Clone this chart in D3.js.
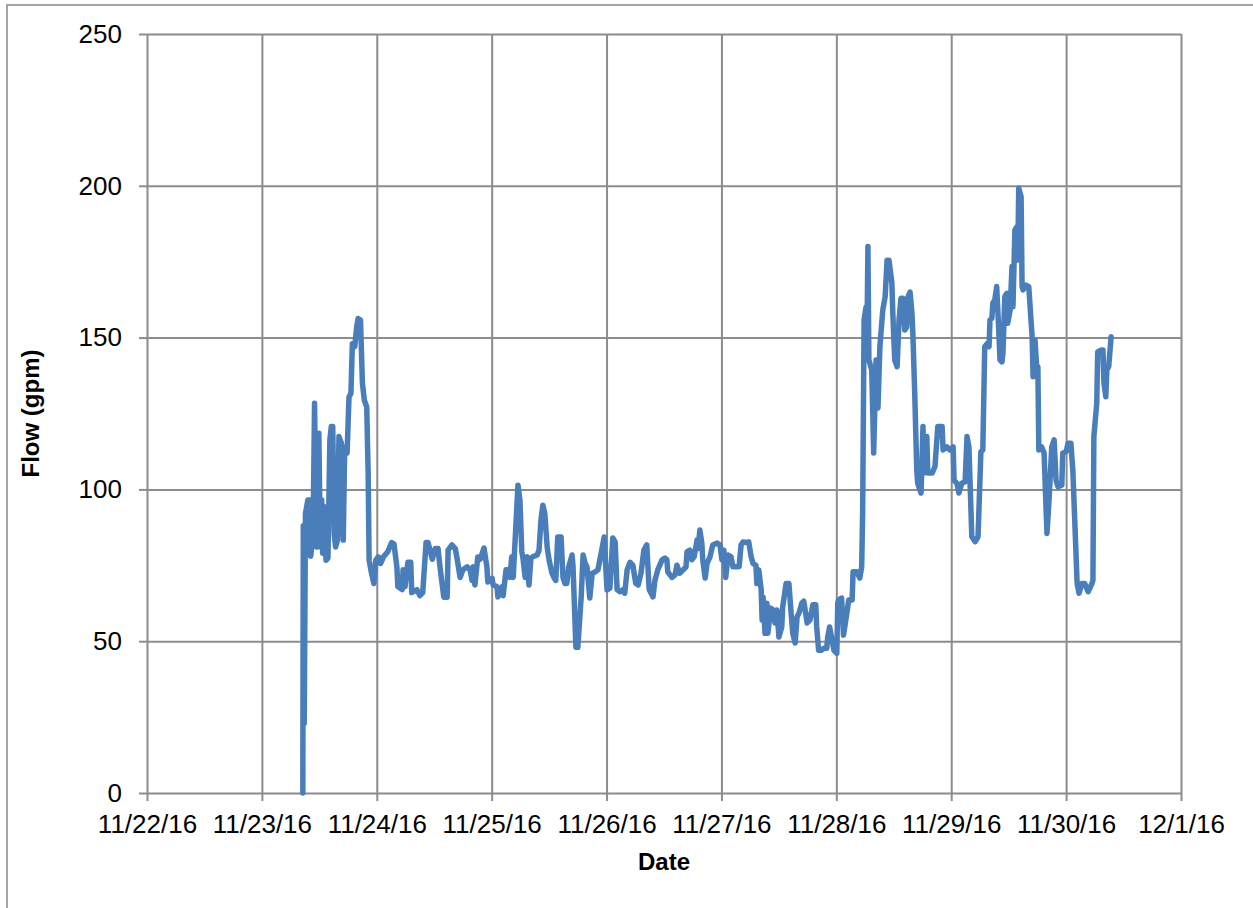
<!DOCTYPE html>
<html>
  <head>
    <title>Flow (gpm) by date</title>
    <script src="https://d3js.org/d3.v7.min.js"></script>
    <style>
      body { margin: 0; background: #fff; }
      text { font-family: "Liberation Sans", Arial, sans-serif; fill: #000; }
      .grid line { stroke: #8c8c8c; stroke-width: 2; }
      .grid path { display: none; }
      .axis path { display: none; }
      .axis line { stroke: #8c8c8c; stroke-width: 2; }
      .axis text { font-size: 26px; }
      .title { font-size: 24px; font-weight: bold; }
      .flow { fill: none; stroke: #4a7ebb; stroke-width: 5.5; stroke-linejoin: round; stroke-linecap: round; }
    </style>
  </head>
  <body>
    <svg id="chart" width="1253" height="908"></svg>

    <script>
      // hours since 11/22/16 00:00, flow in gpm
      var hours = [
        32.55, 32.65, 32.85, 33.1, 33.6, 34.1, 34.2, 34.7, 35.0, 35.4, 35.9, 36.2, 36.5, 36.7, 37.1, 37.4,
        37.8, 38.2, 38.5, 38.8, 39.1, 39.4, 39.8, 40.1, 40.6, 41.0, 41.3, 41.8, 42.2, 42.6, 42.9, 43.4,
        43.8, 44.1, 44.6, 45.0, 45.4, 45.9, 46.2, 46.4, 46.9, 47.4, 47.8, 48.3, 48.8, 49.4,
        50.3, 51.1, 51.6, 52.2, 52.4, 53.3, 53.5, 53.9, 54.5, 55.1, 55.3, 56.4, 57.0, 57.6, 58.3, 58.7,
        59.6, 60.2, 60.8, 61.2, 62.0, 62.7, 62.9, 63.7, 64.4, 64.8, 65.4, 66.0, 66.9, 67.5, 67.9, 68.1,
        68.5, 69.1, 69.6, 70.4, 71.0, 71.2, 72.1,
        72.3, 73.1, 73.3, 74.2, 74.4, 75.0, 75.4, 75.8, 76.2, 76.5, 76.9, 77.3, 77.5, 77.9, 78.3, 78.5,
        79.0, 79.4, 79.8, 80.2, 80.6, 81.5, 81.9, 82.3, 82.7, 83.1, 83.6, 84.0, 84.6, 85.0, 85.4, 85.8,
        86.5, 86.9, 87.3, 87.7, 88.1, 88.8, 89.0, 89.6, 90.0, 90.7, 91.1, 91.5, 91.9, 92.5, 93.0, 93.6,
        94.2, 95.0, 95.5, 96.1, 96.7, 97.3,
        97.8, 98.2, 98.8, 99.4, 99.8, 100.3, 100.9, 101.5, 102.1, 102.6, 103.2, 103.8, 104.4, 104.9, 105.7, 106.1,
        106.7, 107.6, 108.2, 108.6, 108.8, 109.7, 110.3, 110.7, 111.3, 112.0, 112.6, 112.8, 113.4, 113.8, 114.3, 114.9,
        115.1, 115.5, 115.9, 116.1, 116.6, 117.0, 117.6, 118.2, 119.1, 119.7, 120.1, 120.5, 120.9, 121.4, 122.0, 122.4,
        123.2, 123.7, 124.1, 124.5, 125.3, 125.7, 126.2, 126.6, 127.2, 127.4, 127.8, 128.3, 128.5, 128.7, 129.1, 129.5,
        129.7, 130.3, 130.8, 131.2, 131.6, 132.0, 132.6, 132.8, 133.5, 134.1, 134.5, 134.9, 135.4, 135.8, 136.2, 136.8,
        137.2, 137.9, 138.5, 139.1, 139.7, 139.9, 140.3, 140.9, 141.4, 142.0, 142.2, 142.6, 143.1, 143.5, 144.1, 144.3,
        144.5, 145.1, 145.5, 146.2, 146.6, 147.3, 147.5, 148.3, 148.9, 149.3, 149.5, 149.8, 150.2, 150.4, 150.6, 150.8,
        151.4, 151.8, 152.3, 152.7, 153.1, 153.7, 154.2, 154.6, 155.0, 155.6, 155.8, 156.2, 156.7, 157.1, 157.5, 157.9,
        158.3, 158.7, 159.0, 159.4, 159.8, 160.0, 160.4, 160.8, 161.0, 161.7, 162.1, 162.3, 162.9, 163.1, 164.0, 164.6,
        165.2, 166.1, 166.3, 167.1, 167.7,
        168.4, 168.6, 169.2, 169.6, 170.2, 170.9, 171.3, 171.7, 172.3, 173.0, 173.6, 174.2, 174.6, 175.0, 175.5, 175.9,
        176.1, 176.5, 176.7, 177.1, 177.5, 177.8, 178.2, 178.6, 178.8, 179.2, 179.6, 179.8, 180.3, 180.7, 180.9, 181.3,
        181.7, 181.9, 182.1, 182.6, 182.8, 183.0, 183.6, 184.2, 184.9, 185.1, 185.5, 185.9, 186.1, 186.3, 186.9, 187.4,
        188.0, 188.4, 189.0, 189.5, 189.9, 190.3, 191.1, 191.3, 192.0, 192.4, 193.0, 193.4, 193.8, 194.3, 194.7, 195.3,
        195.9, 196.6, 197.4, 197.6, 197.8, 198.4, 198.6, 199.3, 199.7, 199.9, 200.3, 200.5, 200.9, 201.4
      ];

      var flow = [
        0, 88, 23, 92, 96.5, 96.5, 78, 85.6, 128.4, 81, 118.5, 81, 96.5, 79, 94.3, 76.7,
        77.3, 116.3, 120.7, 120.7, 85.5, 81, 83.3, 117.4, 115.2, 83.3, 114, 111.9, 130.5, 131.6, 148, 147,
        153.6, 156.3, 155.8, 135, 129.4, 127.2, 105.4, 76.7, 72.4, 69, 76.7, 77.8, 75.6, 77.8,
        79.5, 82.5, 82, 74.5, 68, 67, 73.5, 68, 76, 76, 66, 67, 65, 66, 82.5, 82.5,
        77, 80.5, 80.5, 74.5, 64.5, 64.5, 80, 81.7, 80.5, 77, 71, 73.5, 74.5, 73.5, 70, 74.5,
        68.5, 77.7, 77, 80.7, 74.5, 69.5, 70.7,
        68.5, 68, 64.6, 68, 65, 73.5, 73.5, 71, 77.8, 71, 83.3, 95.5, 101.4, 96.5, 79.4, 77.8,
        71, 77.8, 68.5, 77.4, 77.8, 78.4, 80, 90, 94.8, 92, 81, 76.7, 72.4, 71, 70, 84.3,
        84.3, 71, 69, 69, 74.5, 78.4, 74.5, 48, 48, 64.6, 78.4, 75.8, 74.5, 64.2, 72.4, 72.8,
        73.5, 80, 84.3, 66.9, 67.5, 84,
        82.7, 67, 66.3, 67, 65.8, 73.5, 76, 75, 69, 68.5, 72.4, 80, 81.7, 67, 64.6, 70,
        73.5, 76.8, 77.4, 76.8, 72.8, 71, 71.8, 75, 72.4, 73.5, 74.5, 79.4, 80, 76.8, 77.8, 83.3,
        80.5, 86.6, 82.3, 76.8, 70.8, 75.6, 77.8, 81.7, 82.3, 81.7, 76.8, 80, 71, 78.4, 77.8, 74.5,
        74.5, 74.6, 81.7, 82.7, 82.5, 82.7, 77.8, 75.6, 75, 69, 73.5, 67, 57, 64.6, 52.6, 62.5,
        52.6, 60.9, 60.3, 56, 60.3, 51.4, 54.7, 61.3, 69, 69, 60.3, 52.6, 49.4, 58, 59.3, 62.6,
        63.2, 56, 57, 62, 62, 54.7, 47, 47, 47.7, 47.7, 51.4, 54.7, 50.4, 47, 46, 62.6,
        63.6, 64.2, 52, 59.3, 63.6, 63.6, 72.9, 72.9, 70.8, 74.5, 93, 155.8, 160, 150, 180, 142.6,
        139.3, 112, 142.6, 126.8, 147, 159, 163.5, 175.5, 175.5, 168, 158, 142.6, 140.4, 155.8, 163, 163,
        152.5, 153.5, 163.5, 165, 158, 150.9, 130.5, 106.4, 102, 98.8, 120.7, 105.4, 117.4, 105.4, 105.4, 107.5,
        120.7, 120.7, 113, 114, 113,
        114, 103, 102, 98.8, 102, 102.5, 117.4, 114, 84.4, 82.8, 84.4, 112.4, 113, 147, 148, 147,
        155.8, 156.4, 161.4, 162.4, 166.8, 156.9, 142.6, 142, 144.8, 163.5, 164.6, 154.7, 159, 173.4, 160.2, 185.4,
        186.5, 175.6, 199.2, 196.4, 166.8, 165.7, 167.3, 166.8, 150.3, 137.1, 149.2, 139.3, 140.4, 113, 114, 112,
        85.5, 95.5, 114, 116.3, 103, 100.9, 101.4, 112, 112.4, 115.2, 115.2, 106.4, 90, 69, 65.8, 69,
        69, 66.3, 69, 70, 117.4, 128.4, 145.3, 145.9, 145.9, 135, 130.5, 139.3, 140.4, 150.3
      ];

      var startDate = new Date(2016, 10, 22);
      var endDate = new Date(2016, 11, 1);
      var yTicks = [0, 50, 100, 150, 200, 250];

      var margin = {left: 147, top: 34};
      var width = 1034, height = 759;

      var svg = d3.select("#chart");

      // outer chart border (only top and left edges fall inside the picture)
      svg.append("rect")
        .attr("x", 7).attr("y", 5)
        .attr("width", 1400).attr("height", 1000)
        .style("fill", "none")
        .style("stroke", "#868686")
        .style("stroke-width", 1.5);

      var g = svg.append("g")
        .attr("transform", `translate(${margin.left},${margin.top})`);

      var x = d3.scaleTime().domain([startDate, endDate]).range([0, width]);
      var y = d3.scaleLinear().domain([0, 250]).range([height, 0]);

      var days = d3.timeDay.range(startDate, d3.timeDay.offset(endDate, 1));

      // gridlines
      g.append("g").attr("class", "grid")
        .call(d3.axisLeft(y).tickValues(yTicks).tickSize(-width).tickFormat(""));
      g.append("g").attr("class", "grid")
        .attr("transform", `translate(0,${height})`)
        .call(d3.axisBottom(x).tickValues(days).tickSize(-height).tickFormat(""));

      // axes
      g.append("g").attr("class", "axis")
        .call(d3.axisLeft(y).tickValues(yTicks).tickSize(8).tickPadding(17));
      g.append("g").attr("class", "axis")
        .attr("transform", `translate(0,${height})`)
        .call(d3.axisBottom(x).tickValues(days).tickSize(8).tickPadding(14)
          .tickFormat(d3.timeFormat("%-m/%-d/%y")));

      var points = hours.map((h, i) => ({
        t: new Date(startDate.getTime() + h * 3600e3),
        v: flow[i]
      }));

      var line = d3.line()
        .x(d => x(d.t))
        .y(d => y(d.v));

      g.append("path")
        .datum(points)
        .attr("class", "flow")
        .attr("d", line);

      // axis titles
      svg.append("text")
        .attr("class", "title")
        .attr("x", margin.left + width / 2)
        .attr("y", 870)
        .style("text-anchor", "middle")
        .text("Date");

      svg.append("text")
        .attr("class", "title")
        .attr("transform", `translate(39,${margin.top + height / 2}) rotate(-90)`)
        .style("text-anchor", "middle")
        .text("Flow (gpm)");
    </script>
  </body>
</html>
